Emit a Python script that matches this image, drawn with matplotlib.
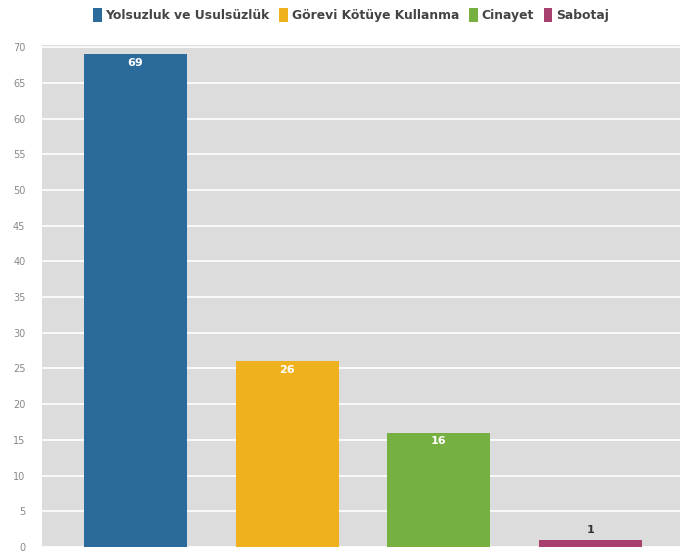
import matplotlib.pyplot as plt
from matplotlib.patches import Patch

categories = ["Yolsuzluk ve Usulsüzlük", "Görevi Kötüye Kullanma", "Cinayet", "Sabotaj"]
values = [69, 26, 16, 1]
colors = ["#2a6b9c", "#efb21e", "#76b041", "#a8406e"]
yticks = list(range(0, 75, 5))

fig = plt.figure(figsize=(6.8, 5.57), dpi=100)
ax = fig.add_axes([42 / 680, 10 / 557, 638 / 680, 502 / 557])
ax.set_facecolor("#dcdcdc")

x = range(len(values))
bars = ax.bar(x, values, width=0.68, color=colors, zorder=3)

for i, (b, v) in enumerate(zip(bars, values)):
    if v > 5:
        ax.text(b.get_x() + b.get_width() / 2, v - 1.2, str(v), ha="center", va="center",
                color="white", fontsize=8, fontweight="bold", zorder=4)
    else:
        ax.text(b.get_x() + b.get_width() / 2, v + 1.4, str(v), ha="center", va="center",
                color="#333333", fontsize=8, fontweight="bold", zorder=4)

ax.set_ylim(0, 70.3)
ax.set_xlim(-0.616, 3.59)
ax.set_yticks(yticks)
ax.set_xticks([])
ax.grid(axis="y", color="white", linewidth=1.2, zorder=1)
ax.tick_params(axis="y", length=0, labelsize=7, labelcolor="#888888", pad=12)
for s in ax.spines.values():
    s.set_visible(False)

handles = [Patch(facecolor=c, label=l) for c, l in zip(colors, categories)]
fig.legend(handles=handles, loc="upper center", bbox_to_anchor=(0.516, 1.005), ncol=4,
           frameon=False, prop={"size": 8.9, "weight": "bold"}, handlelength=0.7,
           handleheight=1.3, handletextpad=0.3, columnspacing=0.8, labelcolor="#444444")

fig.savefig("out.png", dpi=100)
